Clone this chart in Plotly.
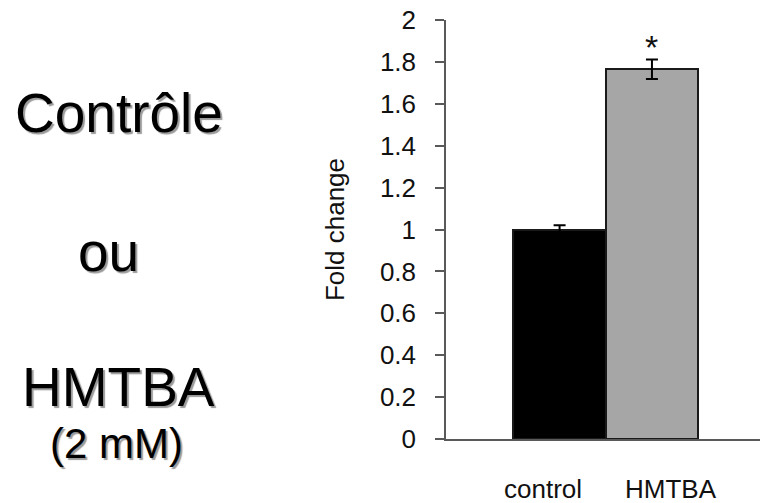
import plotly.graph_objects as go

categories = ["control", "HMTBA"]
values = [1.0, 1.765]
errors = [0.02, 0.047]
bar_colors = ["#000000", "#a6a6a6"]
y_ticks = [0, 0.2, 0.4, 0.6, 0.8, 1, 1.2, 1.4, 1.6, 1.8, 2]
y_tick_text = ["0", "0.2", "0.4", "0.6", "0.8", "1", "1.2", "1.4", "1.6", "1.8", "2"]
left_labels = ["Contrôle", "ou", "HMTBA", "(2 mM)"]

FONT = "Liberation Sans, Arial, sans-serif"
W, H = 760, 503
L, R, T, B = 446, 0, 20, 64

fig = go.Figure()
fig.add_trace(go.Bar(
    x=categories, y=values,
    marker=dict(color=bar_colors, line=dict(color="#1a1a1a", width=2)),
    error_y=dict(type="data", array=errors, visible=True, color="#000000", thickness=2, width=6),
    width=1.0,
    showlegend=False,
))

fig.update_layout(
    width=W, height=H,
    margin=dict(l=L, r=R, t=T, b=B),
    paper_bgcolor="white", plot_bgcolor="white",
    font=dict(family=FONT, color="#000000"),
    bargap=0,
    xaxis=dict(
        type="category", range=[-1.23, 2.17],
        showticklabels=False, showline=True, linecolor="#595959", linewidth=1.5,
        ticks="", showgrid=False, zeroline=False, fixedrange=True,
    ),
    yaxis=dict(
        range=[0, 2], tickvals=y_ticks, ticktext=y_tick_text,
        showline=True, linecolor="#595959", linewidth=1.5,
        ticks="outside", ticklen=9, tickwidth=1.5, tickcolor="#595959",
        ticklabelstandoff=14,
        tickfont=dict(size=26, family=FONT, color="#111111"),
        showgrid=False, zeroline=False,
        title=dict(text="Fold change", font=dict(size=26, family=FONT, color="#111111"), standoff=28),
    ),
)

# category labels below the axis
label_offsets = [-0.18, 0.21]
for i, (cat, off) in enumerate(zip(categories, label_offsets)):
    fig.add_annotation(x=i + off, y=0, xref="x", yref="y", text=cat, showarrow=False,
                       yshift=-50, font=dict(size=26, family=FONT, color="#111111"))

# significance asterisk
fig.add_annotation(x=1, y=values[1] + errors[1], xref="x", yref="y", text="*", showarrow=False,
                   yshift=12, font=dict(size=34, family=FONT, color="#111111"))

# left-side text block (pixel centres converted to plot-area paper coords)
shadow = "2px 2px 1px #9a9a9a"
left_pos = [(119, 113, 55), (109, 252, 55), (118, 387, 55), (117, 443, 42)]
pw, ph = W - L - R, H - T - B
for txt, (px, py, sz) in zip(left_labels, left_pos):
    fig.add_annotation(x=(px - L) / pw, y=(H - B - py) / ph, xref="paper", yref="paper", text=txt,
                       showarrow=False, xanchor="center", yanchor="middle",
                       font=dict(size=sz, family=FONT, color="#000000", shadow=shadow))

fig.write_html("out.html")
